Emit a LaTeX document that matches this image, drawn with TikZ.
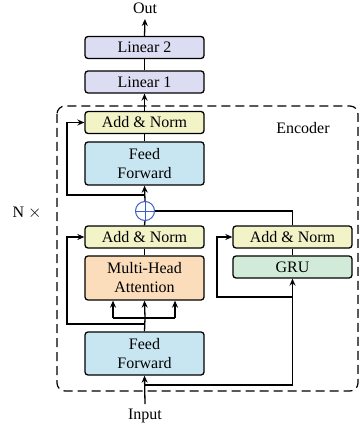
\documentclass[tikz,border=0pt]{standalone}
\usepackage{fontspec}
\setmainfont{Liberation Serif}
\usetikzlibrary{arrows.meta}
\definecolor{linfill}{HTML}{DCDCF2}
\definecolor{normfill}{HTML}{F3F3C8}
\definecolor{fffill}{HTML}{C8E6F2}
\definecolor{attfill}{HTML}{FBDDBC}
\definecolor{grufill}{HTML}{D2EBD9}
\definecolor{plusblue}{HTML}{3A5FC8}
\tikzset{
  blk/.style={draw=black, line width=1.3pt, rounded corners=3pt, minimum width=119pt,
    inner sep=0pt, align=center, font=\fontsize{16}{20}\selectfont},
  onerow/.style={blk, minimum height=22pt},
  tworow/.style={blk, minimum height=43pt},
  wire/.style={line width=1.3pt},
  arr/.style={wire, -{Stealth[length=7pt,width=6pt]}},
  lbl/.style={font=\fontsize{16}{20}\selectfont, inner sep=0pt},
}
\begin{document}
\begin{tikzpicture}[x=1pt,y=-1pt]
\useasboundingbox (0,0) rectangle (360,427);
% encoder frame
\draw[line width=1.2pt, dash pattern=on 9pt off 5pt, rounded corners=8pt] (57,106) rectangle (358,391);
\node[lbl] (enc) at (303,128) {Encoder};
\node[lbl] (nx) at (27,213) {N $\times$};

% blocks
\node[onerow, fill=linfill] (lin2) at (144.5,47.5) {Linear 2};
\node[onerow, fill=linfill] (lin1) at (144.5,82) {Linear 1};
\node[onerow, fill=normfill] (an1) at (144.5,122.5) {Add \& Norm};
\node[tworow, fill=fffill] (ff1) at (144.5,163.5) {Feed\\[-1pt]Forward};
\node[draw=plusblue, line width=1pt, circle, minimum size=19pt, inner sep=0pt, fill=white] (plus) at (145,211) {};
\draw[plusblue, line width=1pt] (plus.north) -- (plus.south) (plus.west) -- (plus.east);
\node[onerow, fill=normfill] (an2) at (144.5,237) {Add \& Norm};
\node[tworow, fill=attfill, minimum height=44pt] (mha) at (144.5,278) {Multi-Head\\[-1pt]Attention};
\node[tworow, fill=fffill] (ff2) at (144.5,353.5) {Feed\\[-1pt]Forward};
\node[onerow, fill=normfill] (an3) at (292.5,237) {Add \& Norm};
\node[onerow, fill=grufill] (gru) at (292.5,267) {GRU};

\node[lbl] (out) at (145,8) {Out};
\node[lbl] (inp) at (145,416) {Input};

% helper points
\coordinate (inend) at (145,404);
\coordinate (inb) at (145,385);
\coordinate (split) at (145,318);
\coordinate (sl) at (113,318);
\coordinate (sr) at (175,318);
\coordinate (r1a) at (145,324);
\coordinate (r1c) at (67,324);
\coordinate (r2a) at (292.5,297);
\coordinate (r2c) at (217,297);
\coordinate (r3a) at (145,195);
\coordinate (r3c) at (67,195);
\coordinate (outend) at (145,19);

% input path
\draw[arr] (inend) -- (ff2.south);
\draw[arr] (inb) -| (gru.south);
% attention inputs
\draw[wire] (ff2.north) -- (split);
\draw[wire] (sl) -- (sr);
\draw[arr] (split) -- (mha.south);
\draw[arr] (sl) -- (sl |- mha.south);
\draw[arr] (sr) -- (sr |- mha.south);
\draw[arr] (r1a) -- (r1c) |- (an2.west);
\draw[wire] (mha.north) -- (an2.south);
% GRU branch
\draw[arr] (r2a) -- (r2c) |- (an3.west);
\draw[wire] (gru.north) -- (an3.south);
\draw[wire] (an3.north) |- (plus.east);
% merge and feed forward
\draw[wire] (an2.north) -- (plus.south);
\draw[arr] (plus.north) -- (ff1.south);
\draw[arr] (r3a) -- (r3c) |- (an1.west);
\draw[wire] (ff1.north) -- (an1.south);
\draw[arr] (an1.north) -- (lin1.south);
\draw[wire] (lin1.north) -- (lin2.south);
\draw[arr] (lin2.north) -- (outend);
\end{tikzpicture}
\end{document}
